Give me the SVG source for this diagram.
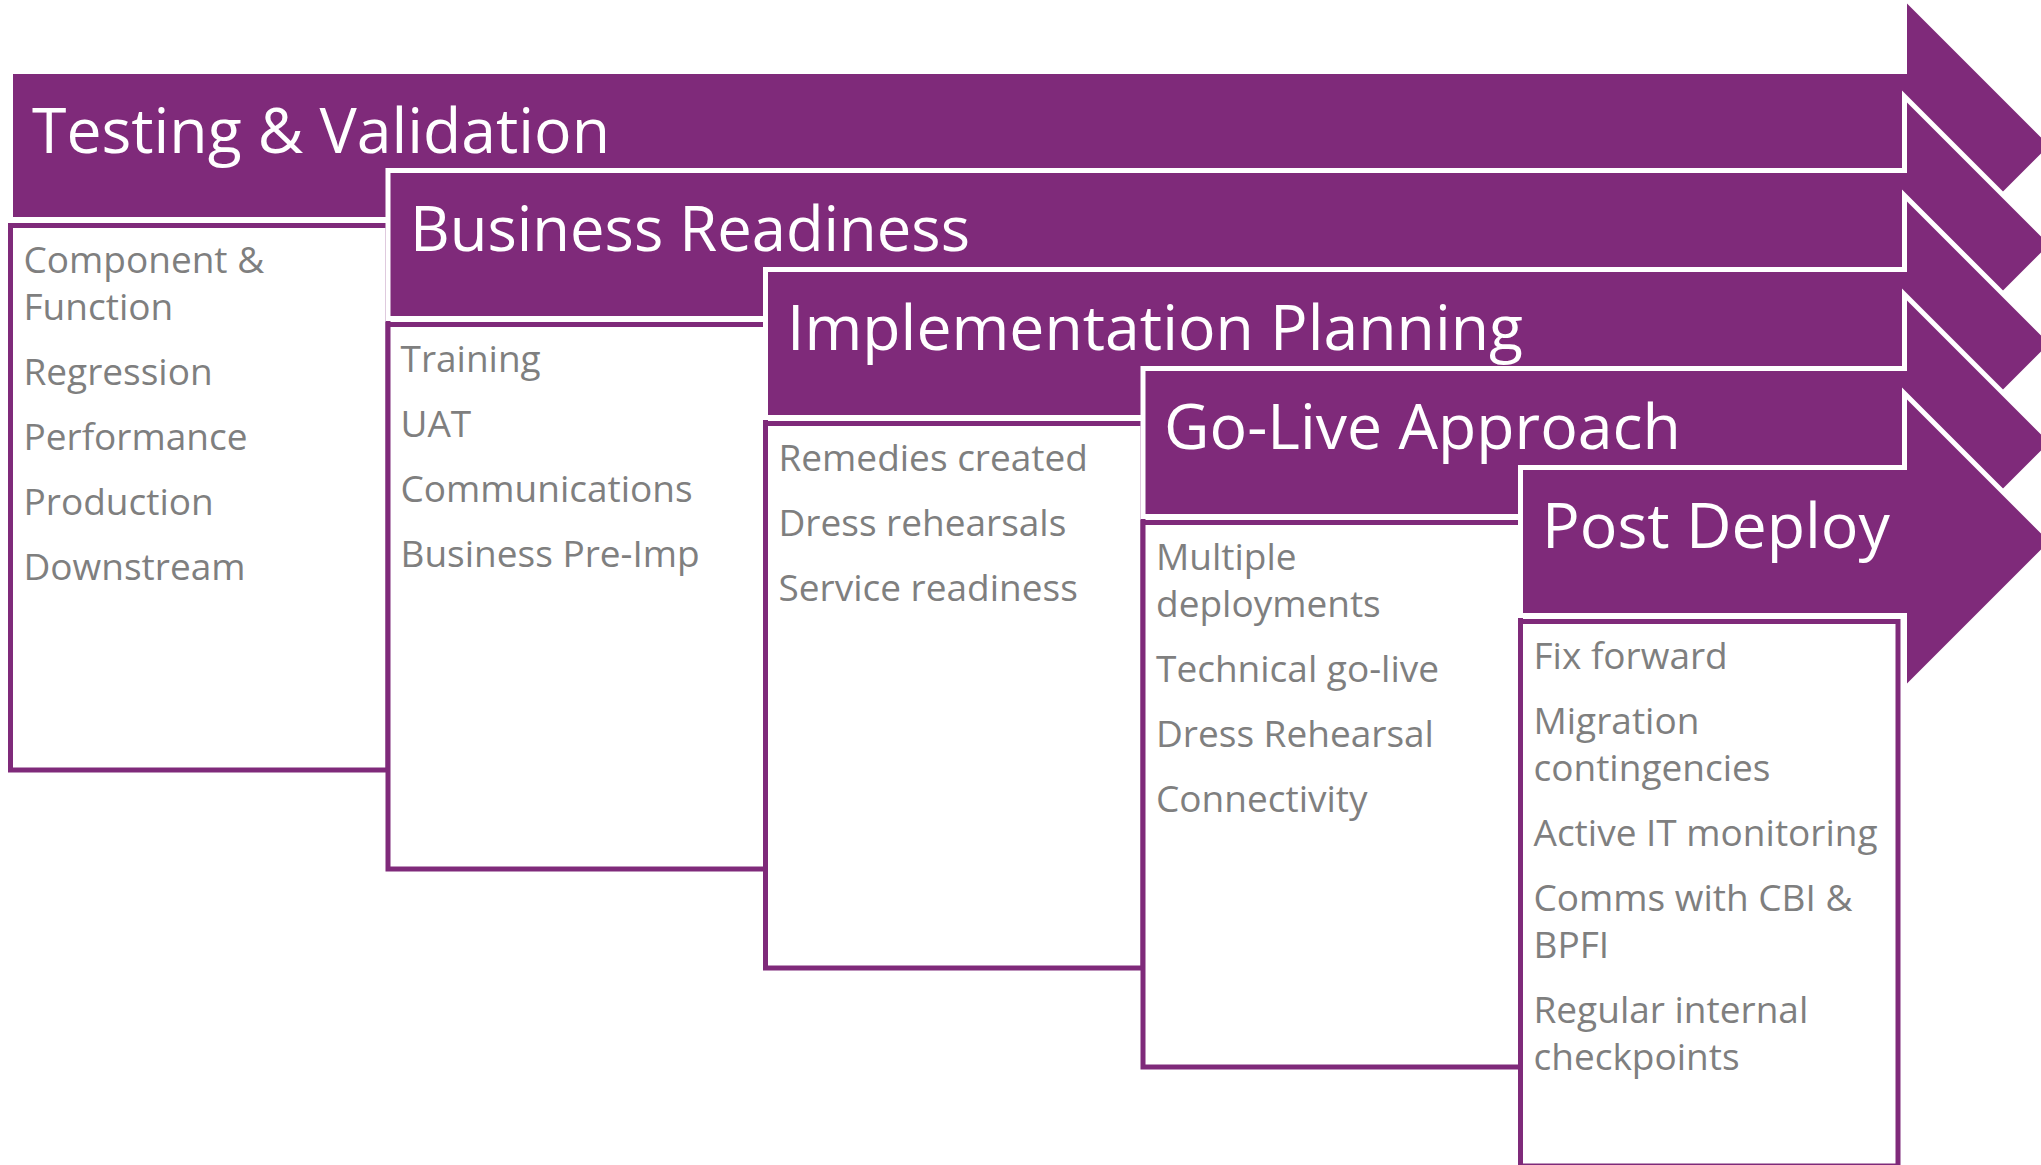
<svg xmlns="http://www.w3.org/2000/svg" width="2041" height="1165" viewBox="0 0 2041 1165">
<style>
.banner{fill:#7F2A7A;stroke:#FFFFFF;stroke-width:10;stroke-linejoin:miter;paint-order:stroke}
.box{fill:#FFFFFF;stroke:#7F2A7A;stroke-width:5}
.title{font-family:"Open Sans","Liberation Sans",sans-serif;font-size:62.5px;fill:#FFFFFF}
.item{font-family:"Open Sans","Liberation Sans",sans-serif;font-size:37px;fill:#7F7F7F}
</style>
<rect x="0" y="0" width="2041" height="1165" fill="#FFFFFF"/>

<g id="banner-testing">
<path class="banner" d="M13,74 H1907 V3.5 L2049,145.5 L1907,287.5 V217 H13 Z"/>
<text class="title" x="32" y="153" textLength="578" lengthAdjust="spacingAndGlyphs">Testing &amp; Validation</text>
</g>
<g id="box-testing">
<rect class="box" x="10.5" y="225.5" width="377.5" height="544.5"/>
<text class="item" x="23.5" y="273">Component &amp;</text>
<text class="item" x="23.5" y="320">Function</text>
<text class="item" x="23.5" y="385">Regression</text>
<text class="item" x="23.5" y="450">Performance</text>
<text class="item" x="23.5" y="515">Production</text>
<text class="item" x="23.5" y="580">Downstream</text>
</g>

<g id="banner-business">
<path class="banner" d="M390.5,173 H1907 V102.5 L2049,244.5 L1907,386.5 V316 H390.5 Z"/>
<text class="title" x="410" y="251" textLength="560" lengthAdjust="spacingAndGlyphs">Business Readiness</text>
</g>
<g id="box-business">
<rect class="box" x="388" y="324.5" width="377.5" height="544.5"/>
<text class="item" x="400.5" y="372">Training</text>
<text class="item" x="400.5" y="437">UAT</text>
<text class="item" x="400.5" y="502">Communications</text>
<text class="item" x="400.5" y="567">Business Pre-Imp</text>
</g>

<g id="banner-implementation">
<path class="banner" d="M768,272 H1907 V201.5 L2049,343.5 L1907,485.5 V415 H768 Z"/>
<text class="title" x="787" y="350" textLength="736" lengthAdjust="spacingAndGlyphs">Implementation Planning</text>
</g>
<g id="box-implementation">
<rect class="box" x="765.5" y="423.5" width="377.5" height="544.5"/>
<text class="item" x="778.5" y="471">Remedies created</text>
<text class="item" x="778.5" y="536">Dress rehearsals</text>
<text class="item" x="778.5" y="601">Service readiness</text>
</g>

<g id="banner-golive">
<path class="banner" d="M1145.5,371 H1907 V300.5 L2049,442.5 L1907,584.5 V514 H1145.5 Z"/>
<text class="title" x="1164" y="449" textLength="517" lengthAdjust="spacingAndGlyphs">Go-Live Approach</text>
</g>
<g id="box-golive">
<rect class="box" x="1143" y="522.5" width="377.5" height="544.5"/>
<text class="item" x="1156" y="570">Multiple</text>
<text class="item" x="1156" y="617">deployments</text>
<text class="item" x="1156" y="682">Technical go-live</text>
<text class="item" x="1156" y="747">Dress Rehearsal</text>
<text class="item" x="1156" y="812">Connectivity</text>
</g>

<g id="banner-postdeploy">
<path class="banner" d="M1523,470 H1907 V399.5 L2049,541.5 L1907,683.5 V613 H1523 Z"/>
<text class="title" x="1542" y="548" textLength="348" lengthAdjust="spacingAndGlyphs">Post Deploy</text>
</g>
<g id="box-postdeploy">
<rect class="box" x="1520.5" y="621.5" width="377.5" height="544.5"/>
<text class="item" x="1533.5" y="669">Fix forward</text>
<text class="item" x="1533.5" y="734">Migration</text>
<text class="item" x="1533.5" y="781">contingencies</text>
<text class="item" x="1533.5" y="846">Active IT monitoring</text>
<text class="item" x="1533.5" y="911">Comms with CBI &amp;</text>
<text class="item" x="1533.5" y="958">BPFI</text>
<text class="item" x="1533.5" y="1023">Regular internal</text>
<text class="item" x="1533.5" y="1070">checkpoints</text>
</g>
</svg>
